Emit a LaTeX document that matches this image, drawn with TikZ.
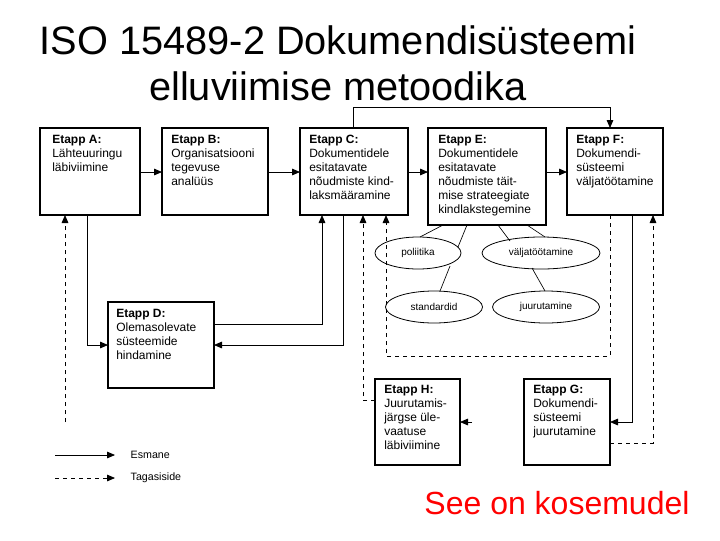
\documentclass[tikz,border=0pt]{standalone}
\usepackage{fontspec}
\setmainfont{Liberation Sans}
\usetikzlibrary{arrows.meta,shapes.geometric}
\begin{document}
\begin{tikzpicture}[x=0.75pt,y=-0.75pt,
 arr/.style={-{Triangle[length=6pt,width=5pt]},line width=0.6pt},
 dsh/.style={arr,dashed},
 bx/.style={line width=0.8pt},
 ell/.style={draw,ellipse,line width=0.6pt,inner sep=0pt,font=\fontsize{7.5}{9}\selectfont},
 txt/.style={anchor=north west,align=left,font=\fontsize{9}{10.5}\selectfont,inner sep=0pt}]
\useasboundingbox (0,0) rectangle (720,540);
\node (t1) at (338,40) {\fontsize{29.8}{33}\selectfont ISO 15489-2 Dokumendisüsteemi};
\node (t2) at (338,86) {\fontsize{29.8}{33}\selectfont elluviimise metoodika};
\node[text=red] (t3) at (557,503) {\fontsize{24}{27}\selectfont See on kosemudel};
% boxes
\draw[bx] (40,128) rectangle (140,215);
\draw[bx] (162,128) rectangle (268,215);
\draw[bx] (300,128) rectangle (408,215);
\draw[bx] (428,128) rectangle (546,225);
\draw[bx] (567,128) rectangle (663,215);
\draw[bx] (108,302) rectangle (214,388);
\draw[bx] (375,379) rectangle (460,465);
\draw[bx] (524,379) rectangle (610,465);
\node[txt] (tA) at (52,135) {\textbf{Etapp A:}\\Lähteuuringu\\läbiviimine};
\node[txt] (tB) at (171,135) {\textbf{Etapp B:}\\Organisatsiooni\\tegevuse\\analüüs};
\node[txt] (tC) at (309,135) {\textbf{Etapp C:}\\Dokumentidele\\esitatavate\\nõudmiste kind-\\laksmääramine};
\node[txt] (tE) at (438,135) {\textbf{Etapp E:}\\Dokumentidele\\esitatavate\\nõudmiste täit-\\mise strateegiate\\kindlakstegemine};
\node[txt] (tF) at (576,135) {\textbf{Etapp F:}\\Dokumendi-\\süsteemi\\väljatöötamine};
\node[txt] (tD) at (116,309) {\textbf{Etapp D:}\\Olemasolevate\\süsteemide\\hindamine};
\node[txt] (tH) at (384,385) {\textbf{Etapp H:}\\Juurutamis-\\järgse üle-\\vaatuse\\läbiviimine};
\node[txt] (tG) at (533,385) {\textbf{Etapp G:}\\Dokumendi-\\süsteemi\\juurutamine};
% ellipses
\node[ell,minimum width=64.5pt,minimum height=24pt] (pol) at (418,253) {poliitika};
\node[ell,minimum width=88.5pt,minimum height=24pt] (val) at (541,253) {väljatöötamine};
\node[ell,minimum width=72.75pt,minimum height=24pt] (std) at (434,307) {standardid};
\node[ell,minimum width=80.25pt,minimum height=24pt] (juu) at (546,307) {juurutamine};
\draw[line width=0.5pt] (443,225)--(420,237) (467,225)--(458,247) (498,225)--(510,241) (527,225)--(545,237)
 (450,266)--(440,291) (532,268)--(545,291);
% solid
\draw[arr] (140,172)--(162,172);
\draw[arr] (268,172)--(300,172);
\draw[arr] (408,172)--(428,172);
\draw[arr] (546,172)--(567,172);
\draw[arr] (353,128)--(353,107)--(610,107)--(610,128);
\draw[arr] (87,215)--(87,345)--(108,345);
\draw[arr] (214,324)--(322,324)--(322,215);
\draw[arr] (343,215)--(343,345)--(214,345);
\draw[arr] (632,215)--(632,422)--(610,422);
\draw[arr] (472,422)--(460,422);
% dashed
\draw[dsh] (65,422)--(65,215);
\draw[dsh] (610,215)--(610,356)--(386,356)--(386,215);
\draw[dsh] (375,400)--(363,400)--(363,215);
\draw[dsh] (610,443)--(653,443)--(653,215);
% legend
\draw[arr] (55,455)--(115,455);
\node[anchor=west,font=\fontsize{8}{9}\selectfont] (l1) at (126,455) {Esmane};
\draw[dsh] (55,478)--(115,478);
\node[anchor=west,font=\fontsize{8}{9}\selectfont] (l2) at (126,478) {Tagasiside};
\end{tikzpicture}
\end{document}
